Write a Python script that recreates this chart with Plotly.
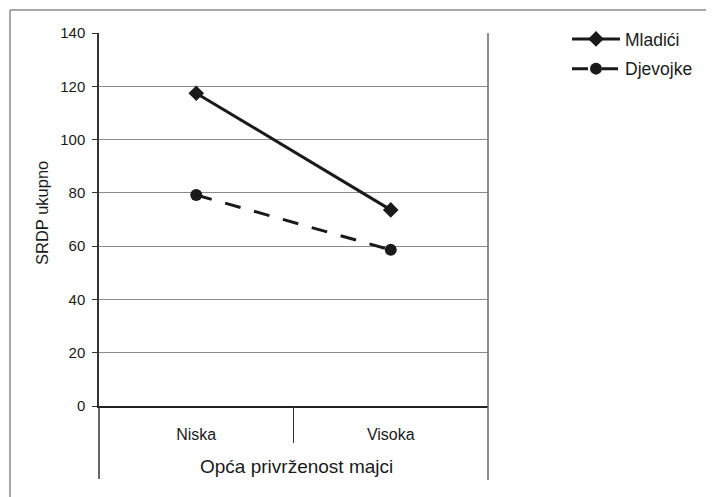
import plotly.graph_objects as go

categories = ["Niska", "Visoka"]
mladici = [117.4, 73.6]
djevojke = [79.2, 58.6]
y_ticks = [0, 20, 40, 60, 80, 100, 120, 140]

# page body has an 8px margin; work in window pixels and convert
OFF = 8
W, H = 714 - OFF, 497 - OFF
L, R, T, B = 99, 488, 33, 406
pw, ph = R - L, B - T

def px_x(p):
    return (p - L) / pw

def px_y(p):
    return (B - p) / ph

FONT = "Liberation Sans, Arial, sans-serif"
INK = "#1a1a1a"

fig = go.Figure()
fig.add_trace(go.Scatter(
    x=categories, y=mladici, name="Mladići", mode="lines+markers",
    legendgroup="m",
    line=dict(color=INK, width=3),
    marker=dict(symbol="diamond", size=12, color=INK),
    cliponaxis=False,
))
fig.add_trace(go.Scatter(
    x=categories, y=djevojke, name="Djevojke", mode="lines+markers",
    legendgroup="d",
    line=dict(color=INK, width=3, dash="16px,14px"),
    marker=dict(symbol="circle", size=12, color=INK),
    cliponaxis=False,
))

gray = "#8a8a8a"
shapes = [
    # outer frame (left and top)
    dict(type="line", xref="paper", yref="paper", x0=px_x(10), x1=px_x(10), y0=px_y(10), y1=px_y(530),
         line=dict(color=gray, width=1.5)),
    dict(type="line", xref="paper", yref="paper", x0=px_x(10), x1=px_x(740), y0=px_y(10), y1=px_y(10),
         line=dict(color=gray, width=1.5)),
    # right plot border
    dict(type="line", xref="paper", yref="paper", x0=1, x1=1, y0=px_y(480), y1=1,
         line=dict(color="#666666", width=1.5)),
    # left axis extension
    dict(type="line", xref="paper", yref="paper", x0=0, x1=0, y0=px_y(479), y1=0,
         line=dict(color="#333333", width=1.5)),
    # category divider
    dict(type="line", xref="paper", yref="paper", x0=0.5, x1=0.5, y0=px_y(443), y1=0,
         line=dict(color="#333333", width=1)),
]

annotations = [
    dict(text="Opća privrženost majci", xref="paper", yref="paper", x=px_x(296), y=px_y(467),
         xanchor="center", yanchor="middle", showarrow=False,
         font=dict(family=FONT, size=19, color=INK)),
    dict(text="SRDP ukupno", xref="paper", yref="paper", x=px_x(42), y=px_y(213),
         xanchor="center", yanchor="middle", showarrow=False, textangle=-90,
         font=dict(family=FONT, size=16.5, color=INK)),
]

fig.update_layout(
    width=W, height=H,
    margin=dict(l=L - OFF, r=(714 - R), t=T - OFF, b=(497 - B), pad=0),
    paper_bgcolor="white", plot_bgcolor="white",
    font=dict(family=FONT, size=15, color=INK),
    showlegend=True,
    legend=dict(x=px_x(567), y=px_y(21), xanchor="left", yanchor="top",
                font=dict(family=FONT, size=17.5, color=INK),
                itemwidth=48, tracegroupgap=4, bgcolor="rgba(0,0,0,0)"),
    shapes=shapes,
    annotations=annotations,
    xaxis=dict(
        type="category", range=[-0.5, 1.5], showgrid=False, zeroline=False,
        showline=True, linecolor="#222222", linewidth=1.5,
        ticks="", ticklabelstandoff=13,
        tickfont=dict(family=FONT, size=16, color=INK),
        fixedrange=True,
    ),
    yaxis=dict(
        range=[0, 140], tickvals=y_ticks, ticktext=[str(v) for v in y_ticks],
        showgrid=True, gridcolor=gray, gridwidth=1, zeroline=False,
        showline=True, linecolor="#333333", linewidth=1.5,
        ticks="outside", ticklen=5, tickcolor="#333333", tickwidth=1,
        ticklabelstandoff=4,
        tickfont=dict(family=FONT, size=15, color=INK),
        fixedrange=True,
    ),
)

fig.write_html("out.html")
